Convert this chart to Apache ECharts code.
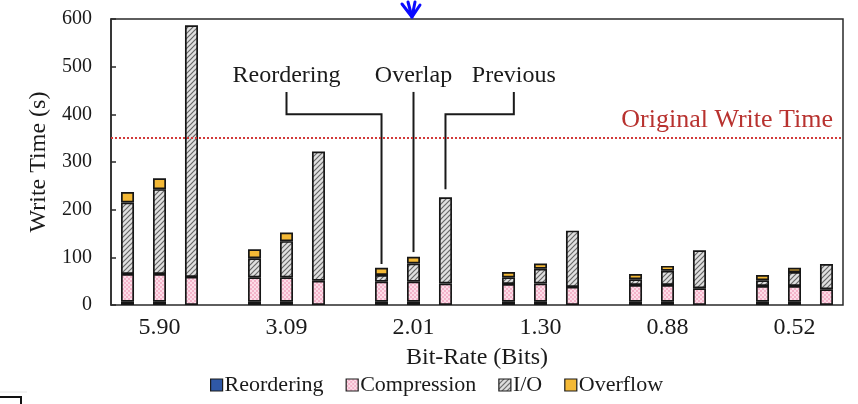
<!DOCTYPE html>
<html>
<head>
<meta charset="utf-8">
<script src="https://cdn.jsdelivr.net/npm/echarts@6/dist/echarts.min.js"></script>
<style>
html,body{margin:0;padding:0;background:#fff;}
#c{width:858px;height:404px;}
</style>
</head>
<body>
<div id="c"></div>
<script>
// ---- data ----
const categories = ['5.90', '3.09', '2.01', '1.30', '0.88', '0.52'];
const yTicks = [0, 100, 200, 300, 400, 500, 600];
const components = ['Reordering', 'Compression', 'I/O', 'Overflow'];
const barGroups = ['Reordering', 'Overlap', 'Previous'];

// "Reordering" bar (1st in each group)
const reorderReordering  = [7, 7, 7, 7, 7, 7];
const reorderCompression = [58, 51, 42, 37, 35, 33];
const reorderIO          = [150, 40, 14, 14, 12, 12];
const reorderOverflow    = [22, 19, 15, 11, 11, 11];

// "Overlap" bar (2nd in each group)
const overlapReordering  = [7, 7, 7, 7, 7, 7];
const overlapCompression = [58, 51, 42, 38, 35, 33];
const overlapIO          = [178, 76, 38, 31, 30, 29];
const overlapOverflow    = [23, 18, 14, 11, 10, 9];

// "Previous" bar (3rd in each group)
const previousReordering  = [null, null, null, null, null, null];
const previousCompression = [59, 51, 45, 38, 35, 33];
const previousIO          = [528, 271, 181, 118, 80, 53];
const previousOverflow    = [null, null, null, null, null, null];

const originalWriteTime = 350;

// ---- styles ----
const FONT = 'Liberation Serif';
function makePattern(kind) {
  const cv = document.createElement('canvas');
  const ctx = cv.getContext('2d');
  if (kind === 'pink') {
    cv.width = 4; cv.height = 4;
    ctx.fillStyle = '#f4b3ca'; ctx.fillRect(0, 0, 4, 4);
    ctx.fillStyle = '#fcdde8';
    ctx.fillRect(0, 0, 2, 2); ctx.fillRect(2, 2, 2, 2);
  } else {
    cv.width = 5; cv.height = 5;
    ctx.fillStyle = '#e0e0e0'; ctx.fillRect(0, 0, 5, 5);
    ctx.strokeStyle = '#666666'; ctx.lineWidth = 1.2;
    ctx.beginPath();
    ctx.moveTo(-1, 6); ctx.lineTo(6, -1);
    ctx.moveTo(-6, 6); ctx.lineTo(1, -1);
    ctx.moveTo(4, 6); ctx.lineTo(11, -1);
    ctx.stroke();
  }
  return { image: cv, repeat: 'repeat' };
}
const compColors = ['#2f58a6', makePattern('pink'), makePattern('gray'), '#f4b936'];

const stackData = {
  Reordering: [reorderReordering, reorderCompression, reorderIO, reorderOverflow],
  Overlap: [overlapReordering, overlapCompression, overlapIO, overlapOverflow],
  Previous: [previousReordering, previousCompression, previousIO, previousOverflow]
};

const BAR_W = 13;
const BAR_GAP = 1.46;

const series = [];
barGroups.forEach(function (g) {
  components.forEach(function (comp, ci) {
    series.push({
      name: comp,
      type: 'bar',
      stack: g,
      xAxisIndex: 1,
      yAxisIndex: 1,
      barWidth: BAR_W,
      barGap: (BAR_GAP * 100) + '%',
      itemStyle: { color: compColors[ci], borderColor: '#161616', borderWidth: 1.7 },
      emphasis: { disabled: true },
      data: stackData[g][ci]
    });
  });
});

series.push({
  type: 'line',
  xAxisIndex: 0,
  yAxisIndex: 0,
  data: [],
  silent: true,
  markLine: {
    silent: true,
    symbol: 'none',
    lineStyle: { color: '#d23a3a', type: [2, 2], width: 2 },
    label: {
      show: true,
      position: 'insideEndTop',
      formatter: 'Original Write Time',
      color: '#b8322f',
      fontFamily: FONT,
      fontSize: 26,
      padding: [0, 10, 0, 0],
      distance: [0, 5]
    },
    data: [{ yAxis: originalWriteTime }]
  }
});

const chart = echarts.init(document.getElementById('c'), null, { renderer: 'canvas' });
chart.setOption({
  animation: false,
  backgroundColor: '#ffffff',
  textStyle: { fontFamily: FONT },
  grid: [
    { left: 111, right: 15, top: 19, bottom: 99, show: true, borderColor: '#2a2a2a', borderWidth: 1.5, backgroundColor: 'transparent' },
    { left: 96, width: 764, top: 19, bottom: 99 }
  ],
  xAxis: [
    { type: 'value', gridIndex: 0, min: 0, max: 1, show: false },
    {
      type: 'category', gridIndex: 1, data: categories,
      axisLine: { show: false }, axisTick: { show: false },
      axisLabel: { fontFamily: FONT, fontSize: 24, color: '#1a1a1a', margin: 11 },
      name: 'Bit-Rate (Bits)', nameLocation: 'middle', nameGap: 41,
      nameTextStyle: { fontFamily: FONT, fontSize: 24, color: '#1a1a1a' }
    }
  ],
  yAxis: [
    {
      type: 'value', gridIndex: 0, min: yTicks[0], max: yTicks[yTicks.length - 1], interval: 100,
      axisLine: { show: true, lineStyle: { color: '#2a2a2a', width: 1.5 } },
      axisTick: { show: true, inside: true, length: 5, lineStyle: { color: '#2a2a2a', width: 1.5 } },
      splitLine: { show: false },
      axisLabel: { fontFamily: FONT, fontSize: 20, color: '#1a1a1a', margin: 19 },
      name: 'Write Time (s)', nameLocation: 'middle', nameGap: 56,
      nameTextStyle: { fontFamily: FONT, fontSize: 24, color: '#1a1a1a' }
    },
    { type: 'value', gridIndex: 1, min: yTicks[0], max: yTicks[yTicks.length - 1], show: false }
  ],
  legend: {
    data: components,
    bottom: 3,
    left: 205,
    icon: 'rect',
    itemWidth: 12,
    itemHeight: 12,
    itemGap: 22,
    itemStyle: { borderColor: '#1c1c1c', borderWidth: 1.2 },
    textStyle: { fontFamily: FONT, fontSize: 22, color: '#1a1a1a', padding: [0, 0, 0, -3] },
    selectedMode: false
  },
  series: series
});

// ---- annotations, positioned through the chart's own scales ----
function px(cat, val) {
  return chart.convertToPixel({ xAxisIndex: 1, yAxisIndex: 1 }, [cat, val]);
}
const barOffset = BAR_W * (1 + BAR_GAP);
const textVal = 480, topVal = 447, elbowVal = 400;
const ann = [];
(function () {
  const t = px(1, textVal), a = px(1, topVal), e = px(1, elbowVal);
  const b = px(2, elbowVal), end = px(2, 86);
  const bx = b[0] - barOffset;
  ann.push({ type: 'text', style: { text: 'Reordering', x: t[0], y: t[1], align: 'center', verticalAlign: 'middle', font: '24px "Liberation Serif"', fill: '#1a1a1a' } });
  ann.push({ type: 'polyline', shape: { points: [[a[0], a[1]], [e[0], e[1]], [bx, b[1]], [bx, end[1]]] }, style: { stroke: '#1a1a1a', lineWidth: 2, fill: null } });
})();
(function () {
  const t = px(2, textVal), a = px(2, topVal), end = px(2, 111);
  ann.push({ type: 'text', style: { text: 'Overlap', x: t[0], y: t[1], align: 'center', verticalAlign: 'middle', font: '24px "Liberation Serif"', fill: '#1a1a1a' } });
  ann.push({ type: 'polyline', shape: { points: [[a[0], a[1]], [a[0], end[1]]] }, style: { stroke: '#1a1a1a', lineWidth: 2, fill: null } });
})();
(function () {
  const c2 = px(2, textVal), c3 = px(3, textVal);
  const tx = c2[0] + 0.79 * (c3[0] - c2[0]);
  const a = px(2, topVal), e = px(2, elbowVal), end = px(2, 243);
  const bx = a[0] + barOffset;
  ann.push({ type: 'text', style: { text: 'Previous', x: tx, y: c2[1], align: 'center', verticalAlign: 'middle', font: '24px "Liberation Serif"', fill: '#1a1a1a' } });
  ann.push({ type: 'polyline', shape: { points: [[tx, a[1]], [tx, e[1]], [bx, e[1]], [bx, end[1]]] }, style: { stroke: '#1a1a1a', lineWidth: 2, fill: null } });
})();
// decorative marks from the source screenshot
ann.push({ type: 'polyline', shape: { points: [[402, 4], [412, 17], [408, 2]] }, style: { stroke: '#0a0aff', lineWidth: 3, fill: null, lineCap: 'round', lineJoin: 'round' } });
ann.push({ type: 'polyline', shape: { points: [[412, 17], [415, 2], [412, 17], [420, 5]] }, style: { stroke: '#0a0aff', lineWidth: 3, fill: null, lineCap: 'round', lineJoin: 'round' } });
ann.push({ type: 'line', shape: { x1: 0, y1: 392, x2: 27, y2: 392 }, style: { stroke: '#e6e6e6', lineWidth: 1 } });
ann.push({ type: 'rect', shape: { x: -3, y: 397, width: 24, height: 12 }, style: { stroke: '#111', lineWidth: 2, fill: '#fff' } });

chart.setOption({ graphic: ann });
</script>
</body>
</html>
